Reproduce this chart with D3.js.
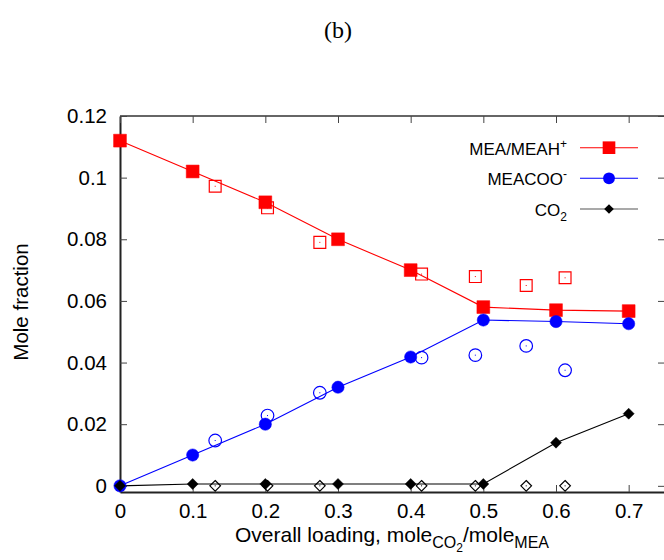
<!DOCTYPE html>
<html>
<head>
<meta charset="utf-8">
<script src="https://cdn.jsdelivr.net/npm/d3@7"></script>
<style>
  html, body { margin: 0; padding: 0; background: #fff; }
  svg { display: block; }
  text { font-family: "Liberation Sans", Arial, sans-serif; fill: #000; }
</style>
</head>
<body>
<svg id="chart" width="664" height="560"></svg>
<script>
// Overall CO2 loading (mol CO2 / mol MEA)
const loading = [0, 0.1, 0.2, 0.3, 0.4, 0.5, 0.6, 0.7];
const meaModel = [0.112, 0.102, 0.092, 0.080, 0.070, 0.058, 0.057, 0.0567];
const meacooModel = [0, 0.010, 0.020, 0.032, 0.0418, 0.0538, 0.0533, 0.0526];
const co2Model = [0, 0.0006, 0.0006, 0.0006, 0.0006, 0.0006, 0.014, 0.0234];

// Experimental points
const loadingExp = [0.131, 0.203, 0.275, 0.415, 0.489, 0.559, 0.6125];
const meaExp = [0.0972, 0.0902, 0.079, 0.0687, 0.0679, 0.065, 0.0675];
const meacooExp = [0.0147, 0.0228, 0.0302, 0.0416, 0.0424, 0.0454, 0.0375];
const co2Exp = [0, 0, 0, 0, 0, 0, 0];

const xTicks = [0, 0.1, 0.2, 0.3, 0.4, 0.5, 0.6, 0.7];
const yTicks = [0, 0.02, 0.04, 0.06, 0.08, 0.1, 0.12];
const seriesNames = ["MEA/MEAH", "MEACOO", "CO"];

const svg = d3.select("#chart");
const pLeft = 120, pRight = 665, pTop = 116, pBottom = 492;

const x = d3.scaleLinear().domain([0, 0.75]).range([pLeft, pRight]);
const y = d3.scaleLinear().domain([-0.002, 0.12]).range([pBottom, pTop]);

// Title
svg.append("text").attr("x", 338).attr("y", 38).attr("text-anchor", "middle")
  .style("font-family", "'Liberation Serif', 'DejaVu Serif', serif").style("font-size", "24px")
  .text("(b)");

// Top border
svg.append("line").attr("x1", pLeft).attr("x2", 664).attr("y1", pTop).attr("y2", pTop)
  .attr("stroke", "#333").attr("stroke-width", 1.5);

// Axes with inward ticks
const fmtX = d => d === 0 ? "0" : d3.format(".1f")(d);
const fmtY = d => d === 0 ? "0" : String(+d.toFixed(2));

const xAxis = svg.append("g").attr("transform", `translate(0,${pBottom})`)
  .call(d3.axisBottom(x).tickValues(xTicks).tickFormat(fmtX).tickSizeInner(-7).tickSizeOuter(0).tickPadding(11));
const yAxis = svg.append("g").attr("transform", `translate(${pLeft},0)`)
  .call(d3.axisLeft(y).tickValues(yTicks).tickFormat(fmtY).tickSizeInner(-7).tickSizeOuter(0).tickPadding(13));
// Mirror ticks on top and right
svg.append("g").attr("transform", `translate(0,${pTop})`)
  .call(d3.axisTop(x).tickValues(xTicks).tickFormat("").tickSizeInner(-7).tickSizeOuter(0))
  .select(".domain").remove();
svg.append("g").attr("transform", `translate(${pRight},0)`)
  .call(d3.axisRight(y).tickValues(yTicks).tickFormat("").tickSizeInner(-7).tickSizeOuter(0))
  .select(".domain").remove();

svg.selectAll(".tick line").attr("stroke", "#444");
[xAxis, yAxis].forEach(a => {
  a.select(".domain").attr("stroke", "#222").attr("stroke-width", 2);
  a.selectAll(".tick text").style("font-size", "20.5px").style("font-family", "'Liberation Sans', Arial, sans-serif");
});

// Axis titles
svg.append("text").attr("transform", "translate(28,302) rotate(-90)").attr("text-anchor", "middle")
  .style("font-size", "20.5px").text("Mole fraction");
const xt = svg.append("text").attr("x", 392).attr("y", 542).attr("text-anchor", "middle").style("font-size", "21px");
xt.append("tspan").text("Overall loading, mole");
xt.append("tspan").attr("dy", 6).style("font-size", "16px").text("CO");
xt.append("tspan").attr("dy", 4).style("font-size", "12px").text("2");
xt.append("tspan").attr("dy", -10).text("/mole");
xt.append("tspan").attr("dy", 6).style("font-size", "16px").text("MEA");

const line = d3.line().x(d => x(d[0])).y(d => y(d[1]));

function drawModel(vals, color) {
  svg.append("path").datum(loading.map((l, i) => [l, vals[i]]))
    .attr("d", line).attr("fill", "none").attr("stroke", color).attr("stroke-width", 1.1);
}
drawModel(meaModel, "#f00");
drawModel(meacooModel, "#00f");
drawModel(co2Model, "#000");

const sym = {
  square: d3.symbol().type(d3.symbolSquare),
  circle: d3.symbol().type(d3.symbolCircle)
};
const diamondPath = r => `M0,${-r}L${r},0L0,${r}L${-r},0Z`;

function drawPoints(xs, ys, kind, color, filled, size) {
  const g = svg.append("g");
  const pts = g.selectAll("g").data(xs.map((v, i) => [v, ys[i]])).join("g")
    .attr("transform", d => `translate(${x(d[0])},${y(d[1])})`);
  const path = kind === "diamond" ? diamondPath(size) : sym[kind].size(size)();
  pts.append("path").attr("d", path)
    .attr("fill", filled ? color : "none")
    .attr("stroke", color).attr("stroke-width", filled ? 0.5 : 1.2);
  if (!filled) {
    pts.append("rect").attr("x", -0.5).attr("y", -0.5).attr("width", 1).attr("height", 1).attr("fill", color);
  }
}

// Experimental (open) symbols
drawPoints(loadingExp, meaExp, "square", "#f00", false, 140);
drawPoints(loadingExp, meacooExp, "circle", "#00f", false, 125);
drawPoints(loadingExp, co2Exp, "diamond", "#000", false, 5.3);

// Model (filled) symbols
drawPoints(loading, meaModel, "square", "#f00", true, 165);
drawPoints(loading, meacooModel, "circle", "#00f", true, 118);
drawPoints(loading, co2Model, "diamond", "#000", true, 5.5);

// Legend
const legend = [
  { color: "#f00", kind: "square", size: 160, ly: 147.7 },
  { color: "#00f", kind: "circle", size: 110, ly: 178.3 },
  { color: "#000", kind: "diamond", size: 4.8, ly: 209 }
];
legend.forEach((d, i) => {
  const g = svg.append("g");
  const t = g.append("text").attr("x", 567).attr("y", d.ly + 7).attr("text-anchor", "end").style("font-size", "17px");
  t.append("tspan").text(seriesNames[i]);
  if (i === 0) t.append("tspan").attr("dy", -7).style("font-size", "12px").text("+");
  if (i === 1) t.append("tspan").attr("dy", -7).style("font-size", "12px").text("-");
  if (i === 2) t.append("tspan").attr("dy", 5).style("font-size", "12px").text("2");
  g.append("line").attr("x1", 580).attr("x2", 638).attr("y1", d.ly).attr("y2", d.ly)
    .attr("stroke", i === 2 ? "#555" : d.color).attr("stroke-width", 1.1);
  const p = d.kind === "diamond" ? diamondPath(d.size) : sym[d.kind].size(d.size)();
  g.append("path").attr("transform", `translate(609,${d.ly})`).attr("d", p).attr("fill", d.color);
});
</script>
</body>
</html>
